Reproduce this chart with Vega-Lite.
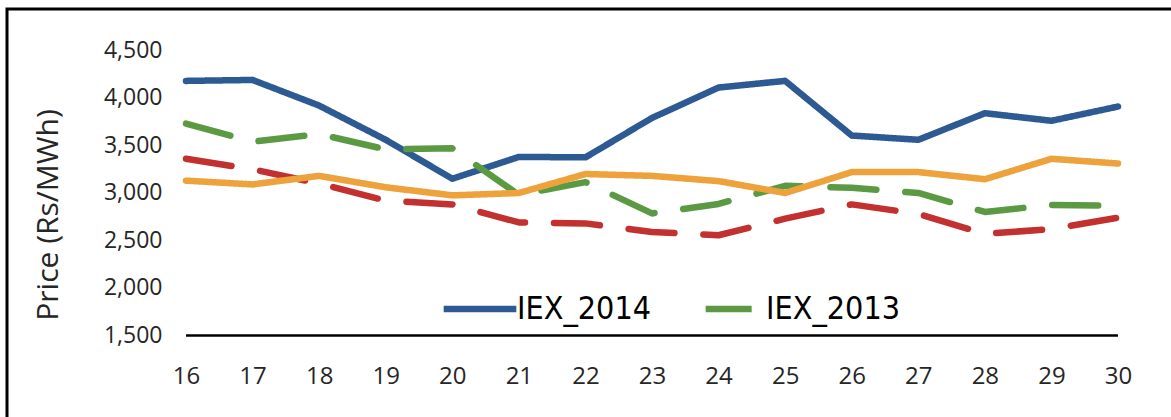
{
  "$schema": "https://vega.github.io/schema/vega-lite/v6.json",
  "width": 1167,
  "height": 411,
  "autosize": "none",
  "padding": {"left": 7, "top": 9, "right": 0, "bottom": 0},
  "background": "white",
  "config": {
    "view": {"stroke": "black", "strokeWidth": 3},
    "font": "Open Sans",
    "axis": {"grid": false, "domain": false, "ticks": false, "tickSize": 0, "labelColor": "#262626", "titleColor": "#262626", "labelFont": "Open Sans", "titleFont": "Open Sans"}
  },
  "layer": [
    {
      "data": {"values": [
        {"day": 16, "series": "IEX_2014", "price": 4180},
        {"day": 17, "series": "IEX_2014", "price": 4190},
        {"day": 18, "series": "IEX_2014", "price": 3920},
        {"day": 19, "series": "IEX_2014", "price": 3560},
        {"day": 20, "series": "IEX_2014", "price": 3150},
        {"day": 21, "series": "IEX_2014", "price": 3380},
        {"day": 22, "series": "IEX_2014", "price": 3375},
        {"day": 23, "series": "IEX_2014", "price": 3790},
        {"day": 24, "series": "IEX_2014", "price": 4110},
        {"day": 25, "series": "IEX_2014", "price": 4180},
        {"day": 26, "series": "IEX_2014", "price": 3605},
        {"day": 27, "series": "IEX_2014", "price": 3560},
        {"day": 28, "series": "IEX_2014", "price": 3840},
        {"day": 29, "series": "IEX_2014", "price": 3760},
        {"day": 30, "series": "IEX_2014", "price": 3910},
        {"day": 16, "series": "IEX_2013", "price": 3730},
        {"day": 17, "series": "IEX_2013", "price": 3540},
        {"day": 18, "series": "IEX_2013", "price": 3620},
        {"day": 19, "series": "IEX_2013", "price": 3460},
        {"day": 20, "series": "IEX_2013", "price": 3470},
        {"day": 21, "series": "IEX_2013", "price": 2980},
        {"day": 22, "series": "IEX_2013", "price": 3115},
        {"day": 23, "series": "IEX_2013", "price": 2785},
        {"day": 24, "series": "IEX_2013", "price": 2885},
        {"day": 25, "series": "IEX_2013", "price": 3075},
        {"day": 26, "series": "IEX_2013", "price": 3055},
        {"day": 27, "series": "IEX_2013", "price": 3000},
        {"day": 28, "series": "IEX_2013", "price": 2800},
        {"day": 29, "series": "IEX_2013", "price": 2875},
        {"day": 30, "series": "IEX_2013", "price": 2865},
        {"day": 16, "series": "PXIL_2013", "price": 3360},
        {"day": 17, "series": "PXIL_2013", "price": 3250},
        {"day": 18, "series": "PXIL_2013", "price": 3100},
        {"day": 19, "series": "PXIL_2013", "price": 2920},
        {"day": 20, "series": "PXIL_2013", "price": 2880},
        {"day": 21, "series": "PXIL_2013", "price": 2690},
        {"day": 22, "series": "PXIL_2013", "price": 2680},
        {"day": 23, "series": "PXIL_2013", "price": 2590},
        {"day": 24, "series": "PXIL_2013", "price": 2555},
        {"day": 25, "series": "PXIL_2013", "price": 2730},
        {"day": 26, "series": "PXIL_2013", "price": 2880},
        {"day": 27, "series": "PXIL_2013", "price": 2780},
        {"day": 28, "series": "PXIL_2013", "price": 2570},
        {"day": 29, "series": "PXIL_2013", "price": 2620},
        {"day": 30, "series": "PXIL_2013", "price": 2740},
        {"day": 16, "series": "PXIL_2014", "price": 3130},
        {"day": 17, "series": "PXIL_2014", "price": 3090},
        {"day": 18, "series": "PXIL_2014", "price": 3180},
        {"day": 19, "series": "PXIL_2014", "price": 3060},
        {"day": 20, "series": "PXIL_2014", "price": 2975},
        {"day": 21, "series": "PXIL_2014", "price": 3000},
        {"day": 22, "series": "PXIL_2014", "price": 3200},
        {"day": 23, "series": "PXIL_2014", "price": 3180},
        {"day": 24, "series": "PXIL_2014", "price": 3125},
        {"day": 25, "series": "PXIL_2014", "price": 3000},
        {"day": 26, "series": "PXIL_2014", "price": 3220},
        {"day": 27, "series": "PXIL_2014", "price": 3220},
        {"day": 28, "series": "PXIL_2014", "price": 3145},
        {"day": 29, "series": "PXIL_2014", "price": 3360},
        {"day": 30, "series": "PXIL_2014", "price": 3310}
      ]},
      "mark": {"type": "line", "strokeWidth": 6.5, "strokeCap": "round", "strokeJoin": "round"},
      "encoding": {
        "x": {
          "field": "day", "type": "quantitative",
          "scale": {"domain": [13.311, 30.841], "nice": false, "zero": false},
          "axis": {"values": [16,17,18,19,20,21,22,23,24,25,26,27,28,29,30], "format": "d", "title": null, "offset": -85, "labelPadding": 29, "labelFontSize": 24, "labelFlush": false}
        },
        "y": {
          "field": "price", "type": "quantitative",
          "scale": {"domain": [610.5, 4936.8], "nice": false, "zero": false},
          "axis": {"values": [1500,2000,2500,3000,3500,4000,4500], "format": ",.0f", "title": "Price (Rs/MWh)", "titleFontSize": 30, "titleFontWeight": "normal", "titlePadding": 40, "offset": -163, "labelPadding": 8, "labelFontSize": 23}
        },
        "color": {
          "field": "series", "type": "nominal",
          "scale": {"domain": ["IEX_2014", "IEX_2013", "PXIL_2013", "PXIL_2014"], "range": ["#2E5A94", "#5B9A43", "#C2302F", "#EDA23B"]},
          "legend": {"values": ["IEX_2014", "IEX_2013"], "title": null, "orient": "none", "legendX": 433, "legendY": 260, "direction": "horizontal", "symbolType": "stroke", "symbolSize": 5280, "symbolStrokeWidth": 6.5, "labelOffset": -3, "labelFontSize": 32, "labelFont": "DejaVu Sans Condensed", "labelColor": "black", "columnPadding": 27, "symbolDashOffset": 62}
        },
        "strokeDash": {
          "field": "series", "type": "nominal",
          "scale": {"domain": ["IEX_2014", "IEX_2013", "PXIL_2013", "PXIL_2014"], "range": [[1, 0], [46, 29], [46, 29], [1, 0]]},
          "legend": {"values": ["IEX_2014", "IEX_2013"], "title": null, "orient": "none", "legendX": 433, "legendY": 260, "direction": "horizontal", "symbolType": "stroke", "symbolSize": 5280, "symbolStrokeWidth": 6.5, "labelOffset": -3, "labelFontSize": 32, "labelFont": "DejaVu Sans Condensed", "labelColor": "black", "columnPadding": 27, "symbolDashOffset": 62}
        }
      }
    },
    {
      "data": {"values": [{"start": 16, "end": 30, "base": 1500}]},
      "mark": {"type": "rule", "color": "black", "strokeWidth": 2.5},
      "encoding": {
        "x": {"field": "start", "type": "quantitative", "axis": {"values": [16,17,18,19,20,21,22,23,24,25,26,27,28,29,30], "format": "d", "title": null, "offset": -85, "labelPadding": 29, "labelFontSize": 24, "labelFlush": false}},
        "x2": {"field": "end"},
        "y": {"field": "base", "type": "quantitative", "axis": {"values": [1500,2000,2500,3000,3500,4000,4500], "format": ",.0f", "title": "Price (Rs/MWh)", "titleFontSize": 30, "titleFontWeight": "normal", "titlePadding": 40, "offset": -163, "labelPadding": 8, "labelFontSize": 23}}
      }
    }
  ]
}
